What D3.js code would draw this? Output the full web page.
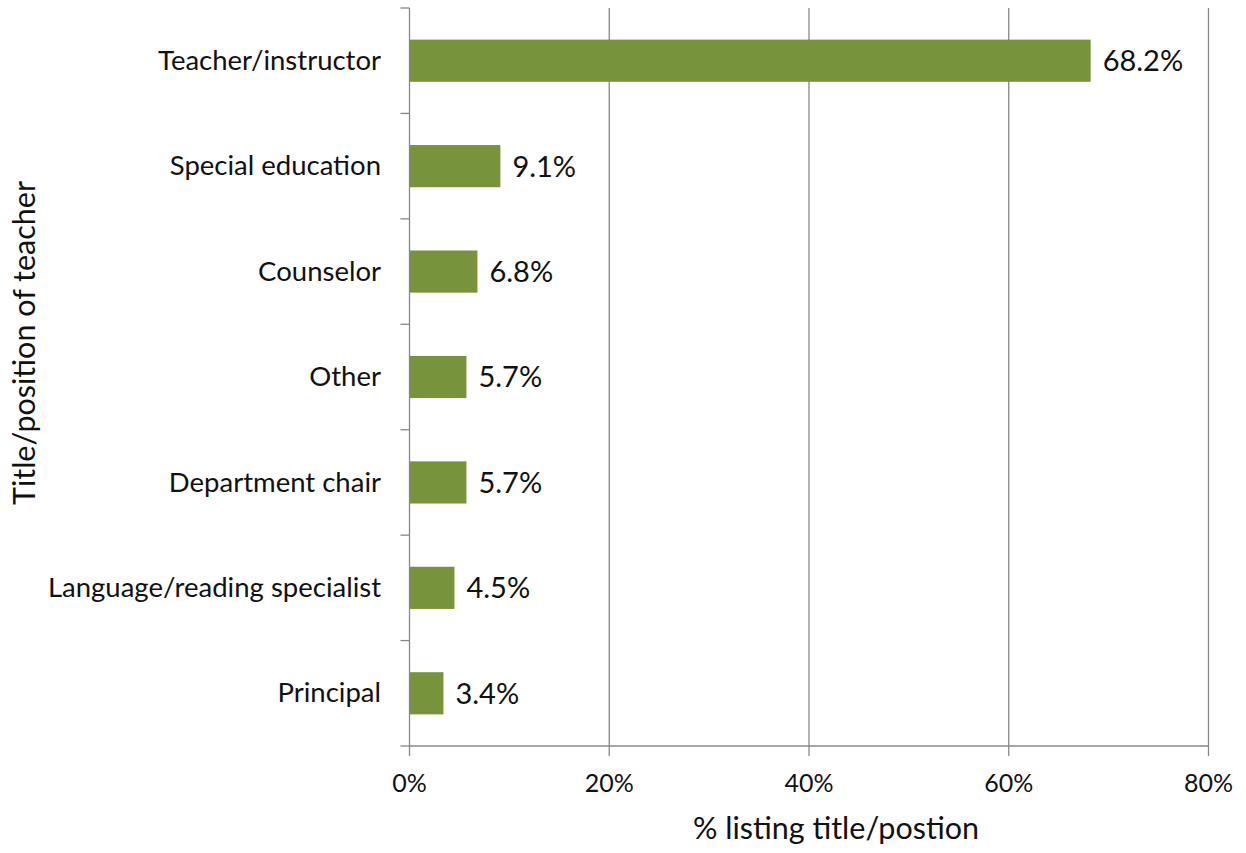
<!DOCTYPE html>
<html>
<head>
<meta charset="utf-8">
<script src="https://cdn.jsdelivr.net/npm/d3@7"></script>
<style>
  html, body { margin: 0; padding: 0; background: #fff; }
  svg { display: block; }
  text { font-family: Lato, "Open Sans", sans-serif; fill: #111; }
</style>
</head>
<body>
<svg id="chart" width="1246" height="853"></svg>
<script>
const categories = ["Teacher/instructor", "Special education", "Counselor", "Other", "Department chair", "Language/reading specialist", "Principal"];
const values = [68.2, 9.1, 6.8, 5.7, 5.7, 4.5, 3.4];
const xTicks = [0, 20, 40, 60, 80];
const xTitle = "% listing title/postion";
const yTitle = "Title/position of teacher";

const svg = d3.select("#chart");
const plotLeft = 409.5, plotRight = 1208.5, plotTop = 8, plotBottom = 746;

const x = d3.scaleLinear().domain([0, 80]).range([plotLeft, plotRight]);
const y = d3.scaleBand().domain(categories).range([plotTop, plotBottom]).paddingInner(0.6).paddingOuter(0.3);
const edge = d3.scaleLinear().domain([0, categories.length]).range([plotTop, plotBottom]);

const grid = "#878787";

// vertical gridlines
svg.append("g").selectAll("line").data(xTicks.filter(t => t > 0)).join("line")
  .attr("x1", d => x(d)).attr("x2", d => x(d))
  .attr("y1", plotTop).attr("y2", plotBottom)
  .attr("stroke", grid).attr("stroke-width", 1.3);

// bars
svg.append("g").selectAll("rect").data(categories).join("rect")
  .attr("x", x(0))
  .attr("y", d => y(d))
  .attr("width", (d, i) => x(values[i]) - x(0))
  .attr("height", y.bandwidth())
  .attr("fill", "#77933C");

// y axis line and ticks
svg.append("line").attr("x1", plotLeft).attr("x2", plotLeft).attr("y1", plotTop).attr("y2", plotBottom)
  .attr("stroke", grid).attr("stroke-width", 1.3);
svg.append("g").selectAll("line").data(d3.range(categories.length + 1)).join("line")
  .attr("x1", plotLeft - 9).attr("x2", plotLeft)
  .attr("y1", d => edge(d)).attr("y2", d => edge(d))
  .attr("stroke", grid).attr("stroke-width", 1.3);

// x axis line and ticks
svg.append("line").attr("x1", plotLeft).attr("x2", plotRight).attr("y1", plotBottom).attr("y2", plotBottom)
  .attr("stroke", grid).attr("stroke-width", 1.3);
svg.append("g").selectAll("line").data(xTicks).join("line")
  .attr("x1", d => x(d)).attr("x2", d => x(d))
  .attr("y1", plotBottom).attr("y2", plotBottom + 10)
  .attr("stroke", grid).attr("stroke-width", 1.3);

// x tick labels
svg.append("g").selectAll("text").data(xTicks).join("text")
  .attr("x", d => x(d)).attr("y", 792)
  .attr("text-anchor", "middle")
  .style("font-size", "25px")
  .text(d => d + "%");

// category labels
svg.append("g").selectAll("text").data(categories).join("text")
  .attr("x", 381)
  .attr("y", d => y(d) + y.bandwidth() / 2)
  .attr("dy", "0.33em")
  .attr("text-anchor", "end")
  .style("font-size", "27.5px")
  .text(d => d);

// data labels
svg.append("g").selectAll("text").data(categories).join("text")
  .attr("x", (d, i) => x(values[i]) + 12)
  .attr("y", d => y(d) + y.bandwidth() / 2)
  .attr("dy", "0.36em")
  .style("font-size", "29px")
  .text((d, i) => values[i].toFixed(1) + "%");

// axis titles
svg.append("text").attr("x", 836).attr("y", 839)
  .attr("text-anchor", "middle").style("font-size", "30.5px").text(xTitle);
svg.append("text").attr("transform", "translate(35,343) rotate(-90)")
  .attr("text-anchor", "middle").style("font-size", "30.5px").text(yTitle);
</script>
</body>
</html>
